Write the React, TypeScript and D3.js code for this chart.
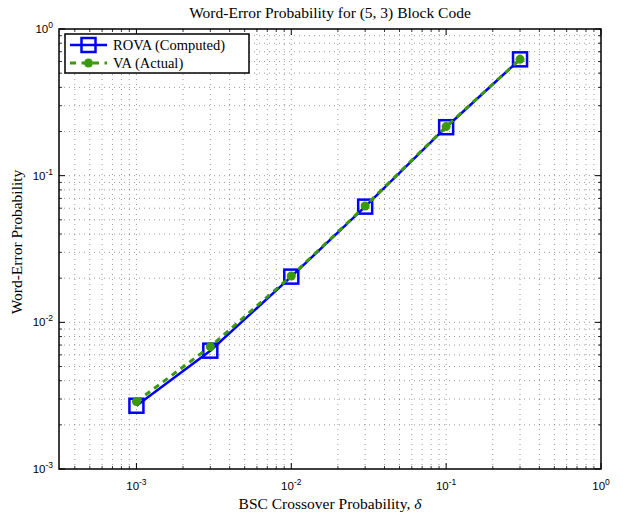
import React from 'react';
import * as d3 from 'd3';

// BSC crossover probability values
const deltas = [0.001, 0.003, 0.01, 0.03, 0.1, 0.3];
// word-error probability, ROVA computed
const rovaValues = [0.0027, 0.00641, 0.0205, 0.0615, 0.214, 0.621];
// word-error probability, VA actual
const vaValues = [0.00288, 0.00683, 0.0207, 0.0621, 0.216, 0.621];

const xMajor = [1e-3, 1e-2, 1e-1, 1e0];
const xMajorExp = ['-3', '-2', '-1', '0'];
const yMajor = [1e-3, 1e-2, 1e-1, 1e0];
const yMajorExp = ['-3', '-2', '-1', '0'];

const W = 623;
const H = 513;
const margin = { top: 29, right: 22, bottom: 44, left: 59 };

export default function App() {
	const plotW = W - margin.left - margin.right;
	const plotH = H - margin.top - margin.bottom;

	const x = d3.scaleLog().domain([Math.pow(10, -3.5), 1]).range([0, plotW]);
	const y = d3.scaleLog().domain([1e-3, 1]).range([plotH, 0]);

	// minor ticks: 2..9 of each decade inside the domain
	const xMinor: number[] = [];
	for (let e = -4; e < 0; e++) {
		for (let m = 2; m <= 9; m++) {
			const v = m * Math.pow(10, e);
			if (v > Math.pow(10, -3.5) && v < 1) xMinor.push(v);
		}
	}
	const yMinor: number[] = [];
	for (let e = -3; e < 0; e++) {
		for (let m = 2; m <= 9; m++) yMinor.push(m * Math.pow(10, e));
	}

	const line = d3.line<[number, number]>()
		.x(d => x(d[0]))
		.y(d => y(d[1]));
	const rovaPts = deltas.map((d, i) => [d, rovaValues[i]] as [number, number]);
	const vaPts = deltas.map((d, i) => [d, vaValues[i]] as [number, number]);

	const blue = '#0000ff';
	const green = '#3a9a0a';
	const gridStyle = { stroke: '#555', strokeWidth: 0.6, strokeDasharray: '1,4' };

	return (
		<svg width={W} height={H} style={{ position: 'absolute', left: 0, top: 0, background: '#fff' }}>
			<text x={margin.left + plotW / 2} y={18} textAnchor="middle"
				fontFamily="Liberation Serif" fontSize={15.5}>Word-Error Probability for (5, 3) Block Code</text>

			<g transform={`translate(${margin.left},${margin.top})`}>
				{/* grid */}
				{xMinor.concat(xMajor.slice(0, 3)).map((v, i) => (
					<line key={'gx' + i} x1={x(v)} x2={x(v)} y1={0} y2={plotH} {...gridStyle} />
				))}
				{yMinor.concat(yMajor.slice(1, 3)).map((v, i) => (
					<line key={'gy' + i} y1={y(v)} y2={y(v)} x1={0} x2={plotW} {...gridStyle} />
				))}

				{/* ticks on all four sides, pointing in */}
				{xMinor.map((v, i) => (
					<g key={'tx' + i} stroke="#000" strokeWidth={0.8}>
						<line x1={x(v)} x2={x(v)} y1={plotH} y2={plotH - 3} />
						<line x1={x(v)} x2={x(v)} y1={0} y2={3} />
					</g>
				))}
				{xMajor.map((v, i) => (
					<g key={'txm' + i} stroke="#000" strokeWidth={1}>
						<line x1={x(v)} x2={x(v)} y1={plotH} y2={plotH - 6} />
						<line x1={x(v)} x2={x(v)} y1={0} y2={6} />
					</g>
				))}
				{yMinor.map((v, i) => (
					<g key={'ty' + i} stroke="#000" strokeWidth={0.8}>
						<line y1={y(v)} y2={y(v)} x1={0} x2={3} />
						<line y1={y(v)} y2={y(v)} x1={plotW} x2={plotW - 3} />
					</g>
				))}
				{yMajor.map((v, i) => (
					<g key={'tym' + i} stroke="#000" strokeWidth={1}>
						<line y1={y(v)} y2={y(v)} x1={0} x2={6} />
						<line y1={y(v)} y2={y(v)} x1={plotW} x2={plotW - 6} />
					</g>
				))}

				{/* tick labels */}
				{xMajor.map((v, i) => (
					<text key={'lx' + i} x={x(v)} y={plotH + 21} textAnchor="middle"
						fontFamily="Liberation Sans" fontSize={11.5}>
						10<tspan dy={-5} fontSize={8.5}>{xMajorExp[i]}</tspan>
					</text>
				))}
				{yMajor.map((v, i) => (
					<text key={'ly' + i} x={-6} y={y(v) + 4} textAnchor="end"
						fontFamily="Liberation Sans" fontSize={11.5}>
						10<tspan dy={-5} fontSize={8.5}>{yMajorExp[i]}</tspan>
					</text>
				))}

				{/* series */}
				<path d={line(rovaPts) || ''} fill="none" stroke={blue} strokeWidth={2.5} />
				{rovaPts.map((p, i) => (
					<rect key={'sq' + i} x={x(p[0]) - 7} y={y(p[1]) - 7} width={14} height={14}
						fill="none" stroke={blue} strokeWidth={2.5} />
				))}
				<path d={line(vaPts) || ''} fill="none" stroke={green} strokeWidth={3} strokeDasharray="6,5" />
				{vaPts.map((p, i) => (
					<circle key={'dot' + i} cx={x(p[0])} cy={y(p[1])} r={4.5} fill={green} />
				))}

				<rect x={0} y={0} width={plotW} height={plotH} fill="none" stroke="#000" strokeWidth={1.5} />

				{/* legend */}
				<g transform="translate(6,5)">
					<rect x={0} y={0} width={184} height={39} fill="#fff" stroke="#000" strokeWidth={1.5} />
					<line x1={5} x2={42} y1={11} y2={11} stroke={blue} strokeWidth={2.5} />
					<rect x={16.5} y={4} width={14} height={14} fill="none" stroke={blue} strokeWidth={2.5} />
					<text x={48} y={16} fontFamily="Liberation Serif" fontSize={14.5}>ROVA (Computed)</text>
					<line x1={5} x2={42} y1={29} y2={29} stroke={green} strokeWidth={3} strokeDasharray="6,5.5" />
					<circle cx={23.5} cy={29} r={4.5} fill={green} />
					<text x={48} y={34} fontFamily="Liberation Serif" fontSize={14.5}>VA (Actual)</text>
				</g>
			</g>

			<text x={margin.left + plotW / 2} y={509} textAnchor="middle"
				fontFamily="Liberation Serif" fontSize={15.5}>
				BSC Crossover Probability, <tspan fontStyle="italic">δ</tspan>
			</text>
			<text transform={`translate(22,242) rotate(-90)`} textAnchor="middle"
				fontFamily="Liberation Serif" fontSize={15.5}>Word-Error Probability</text>
		</svg>
	);
}
